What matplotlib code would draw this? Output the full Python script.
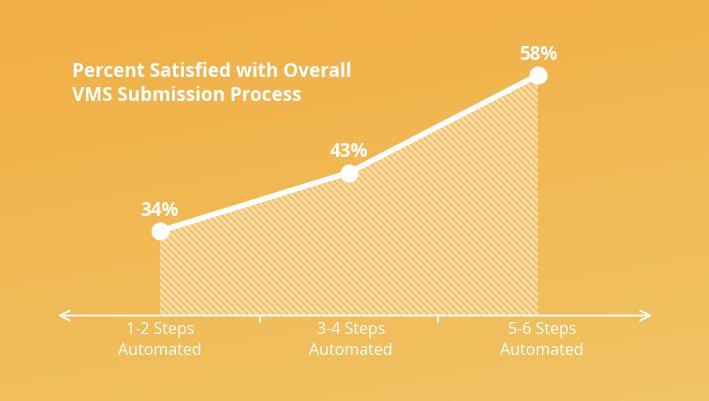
import matplotlib.pyplot as plt
import numpy as np

categories = ['1-2 Steps\nAutomated', '3-4 Steps\nAutomated', '5-6 Steps\nAutomated']
satisfied = [34, 43, 58]
point_labels = ['34%', '43%', '58%']
title = 'Percent Satisfied with Overall\nVMS Submission Process'

baseline = 21
plt.rcParams['hatch.linewidth'] = 1.0

fig = plt.figure(figsize=(7.09, 4.01), dpi=100)
ax = fig.add_axes([0, 0, 1, 1])
ax.set_xlim(-0.847, 2.905)
ax.set_ylim(7.85, 69.54)
ax.axis('off')

# background gradient
gy, gx = np.mgrid[0:1:200j, 0:1:200j]
top = np.array([242, 174, 68]) / 255
bottom = np.array([240, 196, 100]) / 255
t = (0.75 * gy + 0.25 * gx)[..., None]
bg = top * (1 - t) + bottom * t
ax.imshow(bg, extent=[-0.847, 2.905, 7.85, 69.54], aspect='auto', zorder=0)

x = np.arange(len(categories))
ax.fill_between(x, satisfied, baseline, facecolor='#FBE0AC', alpha=0.9, lw=0, zorder=1)
ax.fill_between(x, satisfied, baseline, facecolor='none', edgecolor='#EFB85A',
                hatch='\\\\\\\\\\', lw=0, zorder=2)

ax.plot(x, satisfied, color='white', lw=4, marker='o', markersize=12, zorder=4)

for xi, v, lab in zip(x, satisfied, point_labels):
    ax.text(xi, v + 3.1, lab, color='white', fontsize=13.5, fontweight='bold',
            family='Open Sans', ha='center', va='center', zorder=5)

# axis with arrows
ax.annotate('', xy=(-0.556, baseline), xytext=(2.619, baseline),
            arrowprops=dict(arrowstyle='<->', color='white', lw=1.3,
                            mutation_scale=18), zorder=3)
for tx in [0.53, 1.47]:
    ax.plot([tx, tx], [baseline, baseline - 1.0], color='white', lw=1.3, zorder=3)

for xi, cat in zip(x, categories):
    ax.text(xi + 0.01 * xi, 17.2, cat, color='white', fontsize=11.5,
            family='Open Sans', ha='center', va='center', linespacing=1.45, zorder=5)

ax.text(-0.466, 56.6, title, color='white', fontsize=13.6, fontweight='bold',
        family='Open Sans', ha='left', va='center', linespacing=1.3, zorder=5)

fig.savefig('out.png', dpi=100)
